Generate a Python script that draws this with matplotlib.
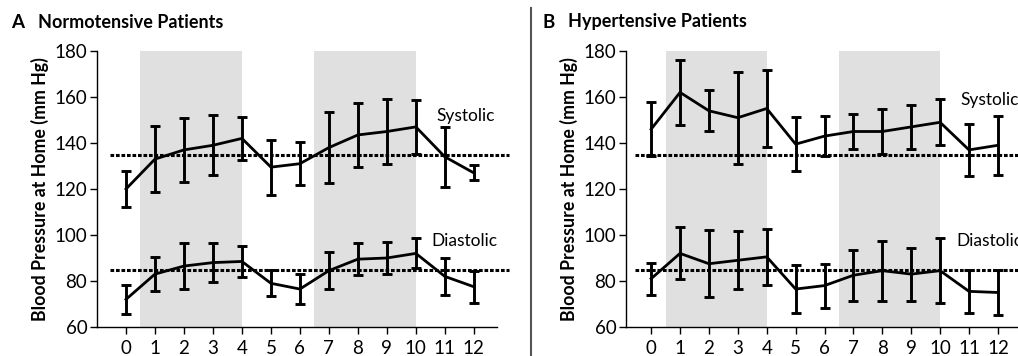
import matplotlib.pyplot as plt
from matplotlib.lines import Line2D

plt.rcParams['font.family'] = ['Lato', 'DejaVu Sans']

# Data (mean and half-width of error bar)
weeks = list(range(13))
week_labels = [str(w) for w in weeks]

a_sys = [120, 133, 137, 139, 142, 129.5, 131, 138, 143.5, 145, 147, 134, 127]
a_sys_err = [7.7, 14.3, 14, 13, 9.5, 12, 9.3, 15.6, 14, 14, 11.6, 13, 3.3]
a_dia = [72, 83, 86.5, 88, 88.5, 79, 76.5, 84.5, 89.5, 90, 92, 82, 77.5]
a_dia_err = [6.4, 7.3, 10, 8.5, 6.8, 5.6, 6.5, 8, 6.9, 6.8, 6.5, 8, 7]

b_sys = [146, 162, 154, 151, 155, 139.5, 143, 145, 145, 147, 149, 137, 139]
b_sys_err = [11.7, 14.2, 8.9, 20, 16.9, 11.7, 8.8, 7.7, 9.8, 9.6, 10, 11.2, 12.7]
b_dia = [81, 92, 87.5, 89, 90.5, 76.5, 78, 82.5, 84.5, 83, 84.5, 75.5, 75]
b_dia_err = [7, 11.3, 14.5, 12.6, 12.2, 10.5, 9.6, 11, 13, 11.5, 14, 9.3, 9.7]

shade_spans = [(0.5, 4), (6.5, 10)]
thresholds = [135, 85]

W, H = 1018, 356
fig = plt.figure(figsize=(W / 100, H / 100), dpi=100)


def px_axes(left, right, top, bottom):
    return fig.add_axes([left / W, 1 - bottom / H, (right - left) / W, (bottom - top) / H])


def draw_panel(ax, sys_v, sys_e, dia_v, dia_e, sys_lab_y, dia_lab_y, xmin):
    ax.set_xlim(xmin, 12.8)
    ax.set_ylim(60, 180)
    for a, b in shade_spans:
        ax.axvspan(a, b, color='#e0e0e0', lw=0, zorder=0)
    for t in thresholds:
        ax.plot([-0.55, 13.2], [t, t], color='black', lw=2.2,
                linestyle=(0, (1.2, 0.6)), clip_on=False, zorder=2)
    for v, e in [(sys_v, sys_e), (dia_v, dia_e)]:
        ax.errorbar(weeks, v, yerr=e, color='black', lw=2, elinewidth=2.1,
                    capsize=3.5, capthick=2.1, zorder=3, clip_on=False)
    ax.text(10.7, sys_lab_y, 'Systolic', fontsize=12.5, va='center', ha='left')
    ax.text(10.55, dia_lab_y, 'Diastolic', fontsize=12.5, va='center', ha='left')
    ax.set_xticks(weeks)
    ax.set_xticklabels(week_labels)
    ax.set_yticks([60, 80, 100, 120, 140, 160, 180])
    for s in ['top', 'right']:
        ax.spines[s].set_visible(False)
    for s in ['left', 'bottom']:
        ax.spines[s].set_linewidth(1.0)
    ax.tick_params(labelsize=13.5, length=5, width=1, pad=2)
    ax.tick_params(axis='x', pad=4)
    ax.set_ylabel('Blood Pressure at Home (mm Hg)', fontsize=12.8,
                  fontweight='bold', labelpad=4)


ax_a = px_axes(97, 497, 51, 327)
draw_panel(ax_a, a_sys, a_sys_err, a_dia, a_dia_err, 151.7, 97.6, -1.0)

ax_b = px_axes(626, 1021, 51, 327)
draw_panel(ax_b, b_sys, b_sys_err, b_dia, b_dia_err, 158.6, 97.2, -0.87)

# panel titles
fig.text(11 / W, 1 - 22 / H, 'A', fontsize=13.5, fontweight='bold', va='center')
fig.text(38 / W, 1 - 22 / H, 'Normotensive Patients', fontsize=13,
         fontweight='bold', va='center')
fig.text(542 / W, 1 - 22 / H, 'B', fontsize=13.5, fontweight='bold', va='center')
fig.text(568 / W, 1 - 22 / H, 'Hypertensive Patients', fontsize=13,
         fontweight='bold', va='center')

# separator line between panels
fig.add_artist(Line2D([531 / W, 531 / W], [0, 1 - 8 / H], color='#555555',
                      lw=1.5, transform=fig.transFigure))

fig.savefig('out.png', dpi=100)
